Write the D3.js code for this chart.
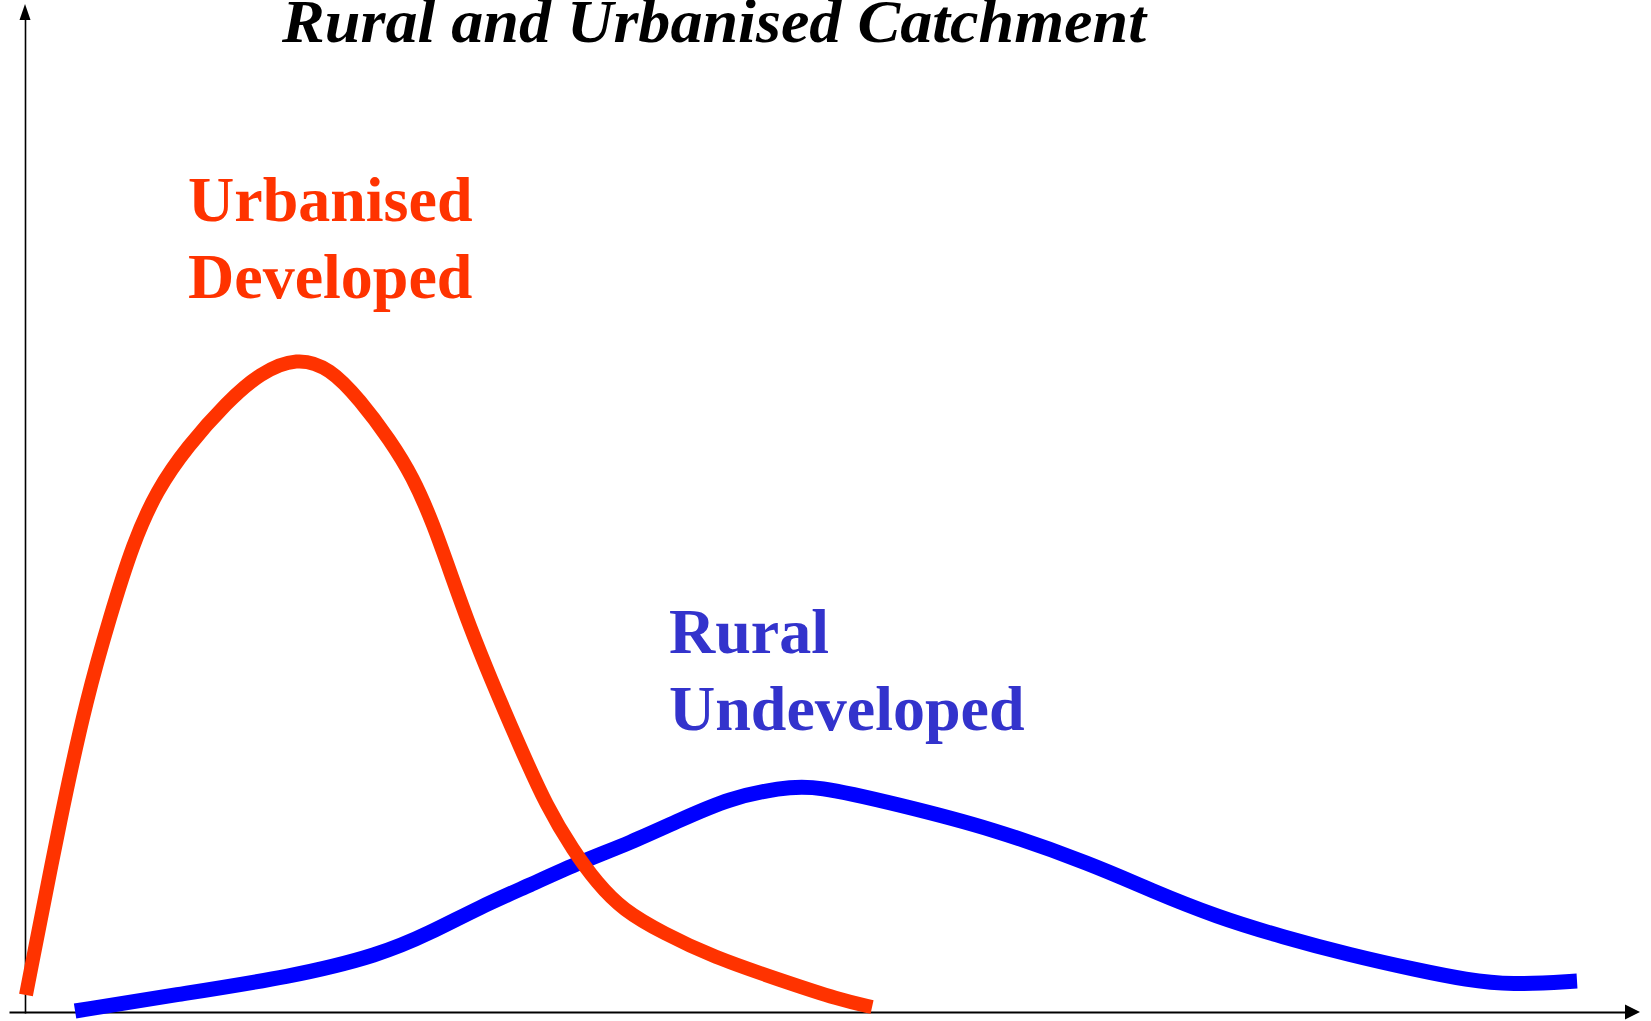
<!DOCTYPE html>
<html>
<head>
<meta charset="utf-8">
<script src="https://cdn.jsdelivr.net/npm/d3@7"></script>
<style>
  html, body { margin: 0; padding: 0; background: #fff; }
  svg { display: block; }
  .label { font-family: "Liberation Serif", "Times New Roman", serif; font-weight: bold; }
</style>
</head>
<body>
<script>
// hydrograph shapes, x = time, y = discharge (arbitrary units 0..100)
const urbanTime = [0.06, 2.29, 3.84, 5.26, 6.69, 8.17, 10.03, 12.51, 14.55, 16.84, 18.89, 20.74, 22.6, 24.02, 25.26, 26.5, 27.55, 28.79, 30.65, 32.32, 33.93, 35.42, 37.03, 39.5, 42.6, 46.75, 50.46, 52.45];
const urbanFlow = [1.7, 20.2, 31.5, 39.5, 46.9, 52.2, 56.5, 61.0, 63.9, 65.5, 64.4, 61.2, 57.2, 53.5, 48.9, 43.2, 38.5, 33.5, 26.5, 20.5, 16.2, 12.9, 10.2, 7.9, 5.5, 3.2, 1.2, 0.5];

const ruralTime = [3.1, 9.23, 16.47, 21.98, 25.08, 28.17, 31.27, 34.37, 37.46, 40.56, 43.65, 46.75, 48.92, 54.18, 59.81, 66.19, 69.66, 73.81, 77.89, 82.04, 86.19, 89.29, 91.95, 96.1];
const ruralFlow = [0.1, 1.7, 3.5, 5.7, 7.9, 10.5, 12.7, 15.0, 16.9, 19.2, 21.4, 22.4, 22.7, 20.7, 18.4, 14.7, 12.2, 9.5, 7.5, 5.7, 4.2, 3.2, 2.7, 3.1];

const title = "Rural and Urbanised Catchment";
const urbanLabel = ["Urbanised", "Developed"];
const ruralLabel = ["Rural", "Undeveloped"];

const width = 1651, height = 1021;
const x = d3.scaleLinear().domain([0, 100]).range([25, 1640]);
const y = d3.scaleLinear().domain([0, 100]).range([1012, 12]);

const svg = d3.select("body").append("svg")
  .attr("width", width)
  .attr("height", height);

// axes: plain lines, no ticks, arrow heads at the ends
svg.append("g")
  .attr("transform", `translate(0,${y(0)})`)
  .call(d3.axisBottom(d3.scaleLinear().range([9, x(100) - 14])).ticks(0).tickSizeOuter(0))
  .select(".domain").attr("stroke", "#000").attr("stroke-width", 2.2);

svg.append("g")
  .attr("transform", `translate(${x(0)},0)`)
  .call(d3.axisLeft(d3.scaleLinear().range([y(0) + 1, 18])).ticks(0).tickSizeOuter(0))
  .select(".domain").attr("stroke", "#000").attr("stroke-width", 1.6);

svg.append("path")
  .attr("d", `M${x(100)},${y(0)} l-15,-7.5 l0,15 z`)
  .attr("fill", "#000");
svg.append("path")
  .attr("d", `M${x(0)},4 l-5.5,16 l11,0 z`)
  .attr("fill", "#000");

const line = d3.line()
  .x(d => x(d[0]))
  .y(d => y(d[1]))
  .curve(d3.curveBasis);

svg.append("path")
  .datum(d3.zip(ruralTime, ruralFlow))
  .attr("d", line)
  .attr("fill", "none")
  .attr("stroke", "#0000ff")
  .attr("stroke-width", 15);

svg.append("path")
  .datum(d3.zip(urbanTime, urbanFlow))
  .attr("d", line)
  .attr("fill", "none")
  .attr("stroke", "#ff3300")
  .attr("stroke-width", 14);

svg.append("text")
  .attr("class", "label")
  .attr("x", 282)
  .attr("y", 42)
  .attr("font-size", 62)
  .attr("font-style", "italic")
  .attr("textLength", 864)
  .attr("lengthAdjust", "spacingAndGlyphs")
  .attr("fill", "#000")
  .text(title);

svg.selectAll(".urban-label")
  .data(urbanLabel)
  .join("text")
    .attr("class", "label urban-label")
    .attr("x", 188)
    .attr("y", (d, i) => 221 + i * 77)
    .attr("font-size", 64)
    .attr("fill", "#ff3300")
    .text(d => d);

svg.selectAll(".rural-label")
  .data(ruralLabel)
  .join("text")
    .attr("class", "label rural-label")
    .attr("x", 669)
    .attr("y", (d, i) => 653 + i * 77)
    .attr("font-size", 64)
    .attr("fill", "#3333cc")
    .text(d => d);
</script>
</body>
</html>
